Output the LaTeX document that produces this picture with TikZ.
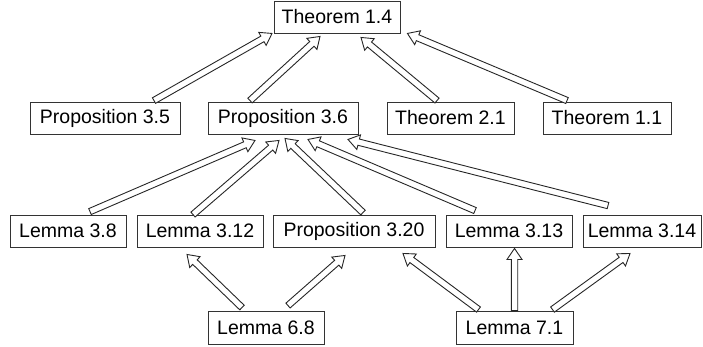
\documentclass[tikz,border=0pt]{standalone}
\usepackage{fontspec}
\setmainfont{Liberation Sans}
\usetikzlibrary{calc}
\def\arrsw{3.2pt}
\def\arrhw{7.5pt}
\def\arrhl{11pt}
\newcommand\harrow[2]{%
  \draw[harr] ($(#1)!\arrsw!90:(#2)$) -- ($(#2)!\arrhl!(#1)!\arrsw!90:(#2)$)
    -- ($(#2)!\arrhl!(#1)!\arrhw!90:(#2)$) -- (#2)
    -- ($(#2)!\arrhl!(#1)!\arrhw!-90:(#2)$) -- ($(#2)!\arrhl!(#1)!\arrsw!-90:(#2)$)
    -- ($(#1)!\arrsw!-90:(#2)$) -- cycle;}
\tikzset{
  box/.style={draw=black!80, line width=0.9pt, minimum height=32pt, inner sep=0pt,
    fill=white, font=\fontsize{19.5}{23}\selectfont},
  harr/.style={draw=black!85, line width=0.9pt, fill=white, line join=miter}
}
\begin{document}
\begin{tikzpicture}[x=1pt,y=-1pt]
\useasboundingbox (0,0) rectangle (703,346);
% nodes
\node[box, minimum width=126pt] (t14) at (337,17) {Theorem 1.4};
\node[box, minimum width=150pt] (p35) at (105,118) {Proposition 3.5};
\node[box, minimum width=150pt] (p36) at (283,118) {Proposition 3.6};
\node[box, minimum width=127pt] (t21) at (450.5,118) {Theorem 2.1};
\node[box, minimum width=128pt] (t11) at (607,118) {Theorem 1.1};
\node[box, minimum width=116pt] (l38) at (68,231) {Lemma 3.8};
\node[box, minimum width=126pt] (l312) at (200,231) {Lemma 3.12};
\node[box, minimum width=162pt] (p320) at (354,231) {Proposition 3.20};
\node[box, minimum width=126pt] (l313) at (509,231) {Lemma 3.13};
\node[box, minimum width=118pt] (l314) at (642,231) {Lemma 3.14};
\node[box, minimum width=116pt, minimum height=33pt] (l68) at (266,327.5) {Lemma 6.8};
\node[box, minimum width=117pt, minimum height=33pt] (l71) at (514.5,327.5) {Lemma 7.1};
% arrow end points
\coordinate (a1) at ($(p35.north)+(49,-1)$);   \coordinate (b1) at ($(t14.south)+(-65,0)$);
\coordinate (a2) at ($(p36.north)+(-33,-1)$);  \coordinate (b2) at ($(t14.south)+(-17,3)$);
\coordinate (a3) at ($(t21.north)+(-13.5,-1)$);\coordinate (b3) at ($(t14.south)+(24,4)$);
\coordinate (a4) at ($(t11.north)+(-40,-1)$);  \coordinate (b4) at ($(t14.south east)+(7,0)$);
\coordinate (a5) at ($(l38.north)+(22,-3)$);   \coordinate (b5) at ($(p36.south)+(-28,6)$);
\coordinate (a6) at ($(l312.north)+(-7,0)$);   \coordinate (b6) at ($(p36.south)+(-4,6)$);
\coordinate (a7) at ($(p320.north)+(9,-2)$);   \coordinate (b7) at ($(p36.south)+(2,4)$);
\coordinate (a8) at ($(l313.north)+(-34,-4)$); \coordinate (b8) at ($(p36.south)+(25,5)$);
\coordinate (a9) at ($(l314.north)+(-34,-9)$); \coordinate (b9) at ($(p36.south)+(65,5)$);
\coordinate (a10) at ($(l68.north)+(-24,-3)$); \coordinate (b10) at ($(l312.south)+(-13,7)$);
\coordinate (a11) at ($(l68.north)+(22,-5)$);  \coordinate (b11) at ($(p320.south)+(-9,8)$);
\coordinate (a12) at ($(l71.north)+(-36,-1)$); \coordinate (b12) at ($(p320.south)+(49,6)$);
\coordinate (a13) at (l71.north);              \coordinate (b13) at ($(l71.north |- l313.south)+(0,1)$);
\coordinate (a14) at ($(l71.north)+(38,-1)$);  \coordinate (b14) at ($(l314.south)+(-12,6)$);
% arrows
\foreach \i in {1,...,14} {\harrow{a\i}{b\i}}
\end{tikzpicture}
\end{document}
